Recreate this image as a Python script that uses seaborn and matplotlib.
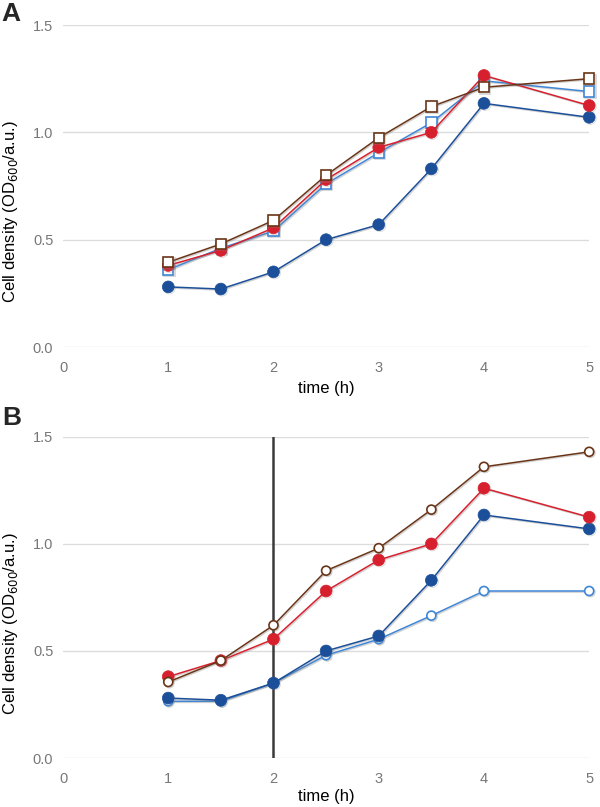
import numpy as np
import pandas as pd
import matplotlib
matplotlib.use("Agg")
import matplotlib.pyplot as plt
import matplotlib.patheffects as pe
import seaborn as sns

time_h = [1, 1.5, 2, 2.5, 3, 3.5, 4, 5]

# Panel A
a_dark_blue = [0.28, 0.27, 0.35, 0.50, 0.57, 0.83, 1.135, 1.07]
a_red = [0.38, 0.45, 0.555, 0.78, 0.93, 1.00, 1.265, 1.125]
a_light_blue_sq = [0.36, 0.46, 0.54, 0.76, 0.905, 1.045, 1.24, 1.19]
a_brown_sq = [0.395, 0.48, 0.59, 0.80, 0.975, 1.12, 1.21, 1.25]

# Panel B
b_brown_circ = [0.355, 0.455, 0.62, 0.875, 0.98, 1.16, 1.36, 1.43]
b_red = [0.38, 0.455, 0.555, 0.78, 0.925, 1.00, 1.26, 1.125]
b_dark_blue = [0.28, 0.27, 0.35, 0.50, 0.57, 0.83, 1.135, 1.07]
b_light_blue_circ = [0.265, 0.265, 0.35, 0.48, 0.555, 0.665, 0.78, 0.78]

x_ticks = [0, 1, 2, 3, 4, 5]
y_ticks = [0.0, 0.5, 1.0, 1.5]
marker_line_x = 2

DARK_BLUE = "#1b4f9a"
RED = "#d7202e"
LIGHT_BLUE = "#3f86d6"
BROWN = "#6a3417"

sns.set_theme(style="white")
plt.rcParams['font.family'] = ['Liberation Sans', 'DejaVu Sans']

fig = plt.figure(figsize=(6.0, 8.07), dpi=100)
axA = fig.add_axes([0.105, 0.570, 0.877, 0.399])
axB = fig.add_axes([0.105, 0.0607, 0.877, 0.398])

shadow = [pe.SimpleLineShadow(offset=(0.8, -0.8), shadow_color="0.5", alpha=0.35), pe.Normal()]


def draw(ax, y, color, marker, filled, ms, z):
    df = pd.DataFrame({"t": time_h, "v": y})
    sns.lineplot(data=df, x="t", y="v", ax=ax, color=color, lw=1.1,
                 marker=marker, markersize=ms,
                 markerfacecolor=color if filled else "white",
                 markeredgecolor=color, markeredgewidth=1.2 if not filled else 0.5,
                 zorder=z, clip_on=False, path_effects=shadow)


draw(axA, a_dark_blue, DARK_BLUE, "o", True, 8.5, 3)
draw(axA, a_light_blue_sq, LIGHT_BLUE, "s", False, 7.5, 4)
draw(axA, a_red, RED, "o", True, 8.5, 5)
draw(axA, a_brown_sq, BROWN, "s", False, 7.5, 6)

axB.axvline(marker_line_x, color="#3a3a3a", lw=1.8, zorder=2)
draw(axB, b_light_blue_circ, LIGHT_BLUE, "o", False, 6.5, 3)
draw(axB, b_dark_blue, DARK_BLUE, "o", True, 8.5, 4)
draw(axB, b_red, RED, "o", True, 8.5, 5)
draw(axB, b_brown_circ, BROWN, "o", False, 6.5, 6)

for ax, lab, xl_y in [(axA, "A", -0.105), (axB, "B", -0.097)]:
    ax.set_xlim(0, 5)
    ax.set_ylim(0, 1.5)
    ax.set_xticks(x_ticks)
    ax.set_xticklabels([str(v) for v in x_ticks])
    ax.set_yticks(y_ticks)
    ax.set_yticklabels([f"{v:.1f}" for v in y_ticks])
    ax.grid(axis="y", color="#dcdcdc", lw=1.0)
    ax.grid(axis="x", visible=False)
    for s in ax.spines.values():
        s.set_visible(False)
    ax.tick_params(axis="x", length=0, labelsize=10.5, labelcolor="#777777", pad=10)
    ax.tick_params(axis="y", length=0, labelsize=10.5, labelcolor="#777777", pad=7)
    ax.set_xlabel("time (h)", fontsize=12, color="black")
    ax.set_ylabel("Cell density (OD$_{600}$/a.u.)", fontsize=12, color="black")
    ax.xaxis.set_label_coords(0.5, xl_y)
    ax.yaxis.set_label_coords(-0.1, 0.42)
    ax.yaxis.label.set_va("center")
    ax.set_axisbelow(True)

fig.text(0.003, 0.997, "A", fontsize=19, fontweight="bold", va="top", ha="left")
fig.text(0.003, 0.497, "B", fontsize=19, fontweight="bold", va="top", ha="left")

fig.savefig("out.png", dpi=100)
